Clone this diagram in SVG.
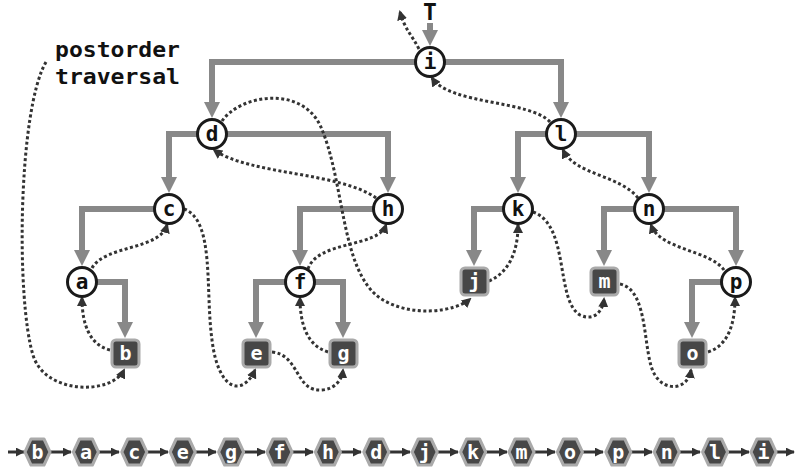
<svg xmlns="http://www.w3.org/2000/svg" xmlns:xlink="http://www.w3.org/1999/xlink" width="804" height="475" viewBox="0 0 804 475">
<style>
.e{fill:none;stroke:#888;stroke-width:6;marker-end:url(#big)}
.t{fill:none;stroke:#333;stroke-width:3;stroke-dasharray:3 2.5;marker-end:url(#dt)}
.r{fill:none;stroke:#333;stroke-width:3;marker-end:url(#sm)}
.nc{fill:#fff;stroke:#1a1a1a;stroke-width:3}
.lf{fill:#474747;stroke:#aaa;stroke-width:3}
.hx{fill:#474747;stroke:#aaa;stroke-width:3;stroke-linejoin:round}
.lb{font-family:"DejaVu Sans Mono","Liberation Mono",monospace;font-weight:bold;font-size:21px;text-anchor:middle;fill:#111}
.lw{font-family:"DejaVu Sans Mono","Liberation Mono",monospace;font-weight:bold;font-size:20px;text-anchor:middle;fill:#fff}
.cap{font-family:"DejaVu Sans Mono","Liberation Mono",monospace;font-weight:bold;font-size:21px;fill:#111}
</style>
<defs>
<marker id="big" markerUnits="userSpaceOnUse" markerWidth="16" markerHeight="16" viewBox="0 0 16 16" refX="1" refY="8" orient="auto"><path d="M0,0 L16,8 L0,16 z" fill="#888"/></marker>
<marker id="dt" markerUnits="userSpaceOnUse" markerWidth="10" markerHeight="10" viewBox="0 0 10 10" refX="8" refY="5" orient="auto"><path d="M0,0 L10,5 L0,10 z" fill="#333"/></marker>
<marker id="sm" markerUnits="userSpaceOnUse" markerWidth="9" markerHeight="9" viewBox="0 0 10 10" refX="9" refY="5" orient="auto"><path d="M0,0 L10,5 L0,10 z" fill="#333"/></marker>
<polygon id="hex" points="-12.5,0 -6.5,-13 6.5,-13 12.5,0 6.5,13 -6.5,13"/>
</defs>
<rect width="804" height="475" fill="#fff"/>

<text class="cap" x="55" y="57" textLength="125" lengthAdjust="spacingAndGlyphs">postorder</text>
<text class="cap" x="55" y="84" textLength="125" lengthAdjust="spacingAndGlyphs">traversal</text>
<text class="lb" x="430" y="20" style="font-size:23px">T</text>

<g id="edges">
<path class="e" d="M430,23 V31"/>
<path class="e" d="M430,62 H212 V103"/>
<path class="e" d="M430,62 H561 V103"/>
<path class="e" d="M212,134 H169 V178"/>
<path class="e" d="M212,134 H388 V178"/>
<path class="e" d="M169,209 H82 V251"/>
<path class="e" d="M82,282 H125 V323"/>
<path class="e" d="M388,209 H300 V251"/>
<path class="e" d="M300,282 H256 V323"/>
<path class="e" d="M300,282 H343 V323"/>
<path class="e" d="M561,134 H518 V178"/>
<path class="e" d="M561,134 H649 V178"/>
<path class="e" d="M518,209 H474 V251"/>
<path class="e" d="M649,209 H604 V251"/>
<path class="e" d="M649,209 H736 V251"/>
<path class="e" d="M736,282 H692 V323"/>
</g>

<g id="traversal">
<path class="t" d="M46,62 C18,110 16,300 33,355 C45,395 112,395 124,370"/>
<path class="t" d="M110,350 C90,345 82,325 82,298"/>
<path class="t" d="M92,268 C105,245 160,250 167,225"/>
<path class="t" d="M184,209 C215,220 205,290 212,340 C218,390 242,398 255,370"/>
<path class="t" d="M272,352 C300,355 295,392 322,390 C335,389 342,380 343,370"/>
<path class="t" d="M328,352 C305,345 300,320 300,298"/>
<path class="t" d="M308,269 C318,240 378,248 386,225"/>
<path class="t" d="M376,198 C340,172 250,175 214,150"/>
<path class="t" d="M222,121 C240,95 300,85 320,125 C345,180 340,270 380,298 C410,318 455,312 470,299"/>
<path class="t" d="M489,281 C510,272 518,250 518,225"/>
<path class="t" d="M533,212 C570,225 555,300 580,315 C595,322 603,310 604,299"/>
<path class="t" d="M620,284 C650,290 642,355 655,375 C665,392 688,390 691,370"/>
<path class="t" d="M708,352 C730,345 735,320 735,298"/>
<path class="t" d="M724,270 C710,250 660,250 651,225"/>
<path class="t" d="M638,198 C620,175 575,175 563,150"/>
<path class="t" d="M550,122 C530,100 450,105 432,78"/>
<path class="t" d="M419,49 C412,35 405,30 400,12"/>
</g>

<g id="node-i"><circle class="nc" cx="430" cy="62" r="14.5"/><text class="lb" x="430" y="69">i</text></g>
<g id="node-d"><circle class="nc" cx="212" cy="134" r="14.5"/><text class="lb" x="212" y="141">d</text></g>
<g id="node-l"><circle class="nc" cx="561" cy="134" r="14.5"/><text class="lb" x="561" y="141">l</text></g>
<g id="node-c"><circle class="nc" cx="169" cy="209" r="14.5"/><text class="lb" x="169" y="216">c</text></g>
<g id="node-h"><circle class="nc" cx="388" cy="209" r="14.5"/><text class="lb" x="388" y="216">h</text></g>
<g id="node-k"><circle class="nc" cx="518" cy="209" r="14.5"/><text class="lb" x="518" y="216">k</text></g>
<g id="node-n"><circle class="nc" cx="649" cy="209" r="14.5"/><text class="lb" x="649" y="216">n</text></g>
<g id="node-a"><circle class="nc" cx="82" cy="282" r="14.5"/><text class="lb" x="82" y="289">a</text></g>
<g id="node-f"><circle class="nc" cx="300" cy="282" r="14.5"/><text class="lb" x="300" y="289">f</text></g>
<g id="node-p"><circle class="nc" cx="736" cy="282" r="14.5"/><text class="lb" x="736" y="289">p</text></g>

<g id="leaf-b"><rect class="lf" x="112" y="340" width="27" height="27" rx="4"/><text class="lw" x="125.5" y="360">b</text></g>
<g id="leaf-j"><rect class="lf" x="461" y="268" width="27" height="27" rx="4"/><text class="lw" x="474.5" y="288">j</text></g>
<g id="leaf-e"><rect class="lf" x="243" y="340" width="27" height="27" rx="4"/><text class="lw" x="256.5" y="360">e</text></g>
<g id="leaf-g"><rect class="lf" x="330" y="340" width="27" height="27" rx="4"/><text class="lw" x="343.5" y="360">g</text></g>
<g id="leaf-m"><rect class="lf" x="591" y="268" width="27" height="27" rx="4"/><text class="lw" x="604.5" y="288">m</text></g>
<g id="leaf-o"><rect class="lf" x="679" y="340" width="27" height="27" rx="4"/><text class="lw" x="692.5" y="360">o</text></g>

<g id="list-arrows">
<path class="r" d="M8,452 H24"/>
<path class="r" d="M51,452 H71"/>
<path class="r" d="M99,452 H119"/>
<path class="r" d="M147,452 H168"/>
<path class="r" d="M196,452 H216"/>
<path class="r" d="M244,452 H265"/>
<path class="r" d="M292,452 H313"/>
<path class="r" d="M341,452 H361"/>
<path class="r" d="M389,452 H410"/>
<path class="r" d="M438,452 H458"/>
<path class="r" d="M486,452 H507"/>
<path class="r" d="M534,452 H555"/>
<path class="r" d="M583,452 H603"/>
<path class="r" d="M631,452 H652"/>
<path class="r" d="M680,452 H700"/>
<path class="r" d="M728,452 H749"/>
<path class="r" d="M777,452 H794"/>
</g>

<g id="list-b"><use xlink:href="#hex" class="hx" x="37.5" y="452"/><text class="lw" x="37.5" y="459">b</text></g>
<g id="list-a"><use xlink:href="#hex" class="hx" x="85.9" y="452"/><text class="lw" x="85.9" y="459">a</text></g>
<g id="list-c"><use xlink:href="#hex" class="hx" x="134.3" y="452"/><text class="lw" x="134.3" y="459">c</text></g>
<g id="list-e"><use xlink:href="#hex" class="hx" x="182.7" y="452"/><text class="lw" x="182.7" y="459">e</text></g>
<g id="list-g"><use xlink:href="#hex" class="hx" x="231.1" y="452"/><text class="lw" x="231.1" y="459">g</text></g>
<g id="list-f"><use xlink:href="#hex" class="hx" x="279.5" y="452"/><text class="lw" x="279.5" y="459">f</text></g>
<g id="list-h"><use xlink:href="#hex" class="hx" x="327.9" y="452"/><text class="lw" x="327.9" y="459">h</text></g>
<g id="list-d"><use xlink:href="#hex" class="hx" x="376.3" y="452"/><text class="lw" x="376.3" y="459">d</text></g>
<g id="list-j"><use xlink:href="#hex" class="hx" x="424.7" y="452"/><text class="lw" x="424.7" y="459">j</text></g>
<g id="list-k"><use xlink:href="#hex" class="hx" x="473.1" y="452"/><text class="lw" x="473.1" y="459">k</text></g>
<g id="list-m"><use xlink:href="#hex" class="hx" x="521.5" y="452"/><text class="lw" x="521.5" y="459">m</text></g>
<g id="list-o"><use xlink:href="#hex" class="hx" x="569.9" y="452"/><text class="lw" x="569.9" y="459">o</text></g>
<g id="list-p"><use xlink:href="#hex" class="hx" x="618.3" y="452"/><text class="lw" x="618.3" y="459">p</text></g>
<g id="list-n"><use xlink:href="#hex" class="hx" x="666.7" y="452"/><text class="lw" x="666.7" y="459">n</text></g>
<g id="list-l"><use xlink:href="#hex" class="hx" x="715.1" y="452"/><text class="lw" x="715.1" y="459">l</text></g>
<g id="list-i"><use xlink:href="#hex" class="hx" x="763.5" y="452"/><text class="lw" x="763.5" y="459">i</text></g>
</svg>
